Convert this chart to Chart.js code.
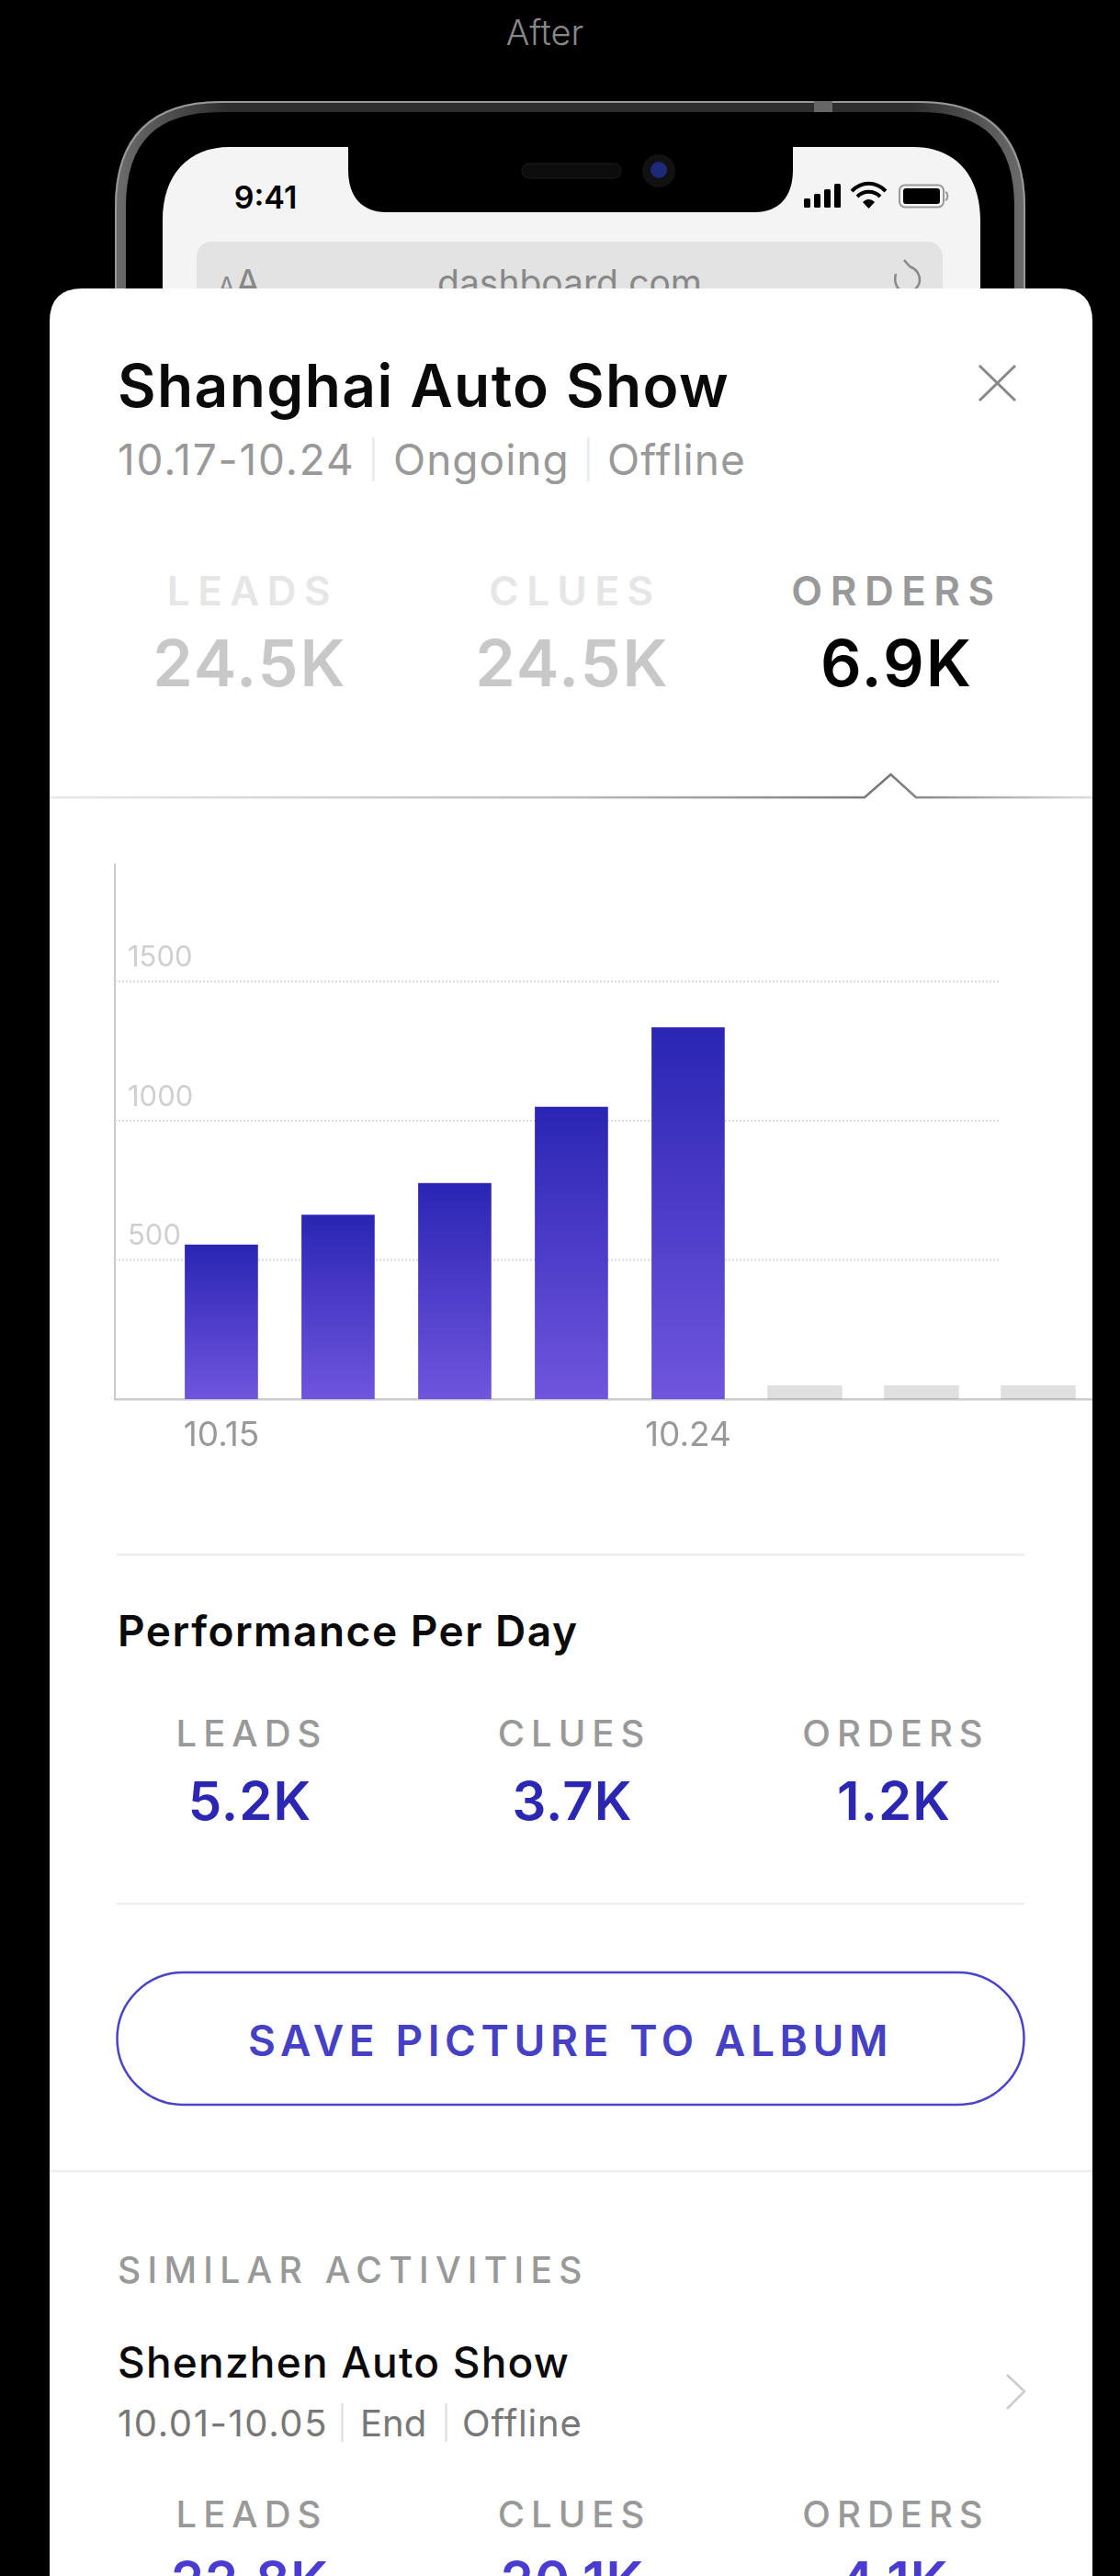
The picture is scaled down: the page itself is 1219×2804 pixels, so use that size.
<!DOCTYPE html>
<html>
<head>
<meta charset="utf-8">
<style>
html, body { margin: 0; padding: 0; background: #000; width: 1219px; height: 2804px; overflow: hidden; }
#page { position: absolute; left: 0; top: 0; width: 1219px; height: 2804px; overflow: hidden; }
#page svg { position: absolute; left: 0; top: 0; }
#wrap { position: absolute; left: 54px; top: 900px; width: 1135px; height: 720px; }
text { font-family: Inter, "Noto Sans", sans-serif; }
</style>
<script src="https://cdn.jsdelivr.net/npm/chart.js@4"></script>
</head>
<body>
<div id="page">
<svg id="art" width="1219" height="2804" xmlns="http://www.w3.org/2000/svg">
  <defs>
    <linearGradient id="bezel" x1="0" y1="0" x2="1" y2="0">
      <stop offset="0" stop-color="#6a6a6a"/><stop offset="0.12" stop-color="#2e2e2e"/>
      <stop offset="0.88" stop-color="#2e2e2e"/><stop offset="1" stop-color="#6a6a6a"/>
    </linearGradient>
    <linearGradient id="tabLine" gradientUnits="userSpaceOnUse" x1="54" y1="0" x2="1189" y2="0">
      <stop offset="0" stop-color="#e8e8e8"/><stop offset="0.5" stop-color="#bbb"/>
      <stop offset="0.8" stop-color="#777"/><stop offset="1" stop-color="#ddd"/>
    </linearGradient>
  </defs>
  <!-- phone behind the card -->
  <path d="M131 330 V225 C131 150 168 116 240 116 H1001 C1073 116 1110 150 1110 225 V330 Z" fill="#000" stroke="url(#bezel)" stroke-width="12"/>
  <path d="M126 330 V225 C126 150 165 111 240 111 H1001 C1076 111 1115 150 1115 225 V330" fill="none" stroke="#999" stroke-width="2"/>
  <rect x="886" y="110" width="20" height="12" fill="#666"/>
  <path d="M177 330 V240 C177 190 205 160 250 160 H379 V185 C379 215 395 231 420 231 H822 C847 231 863 215 863 185 V160 H994 C1039 160 1067 190 1067 240 V330 Z" fill="#f4f4f4"/>
  <rect x="568" y="178" width="108" height="16" rx="8" fill="#0c0c0c" stroke="#1c1c1c"/>
  <circle cx="717" cy="186" r="18" fill="#111"/>
  <circle cx="717" cy="185" r="9" fill="#1d2a7a"/>
  <rect x="214" y="263" width="812" height="70" rx="16" fill="#e3e3e3"/>
  <!-- status icons -->
  <rect x="875" y="216" width="7" height="10" rx="1.5"/><rect x="886" y="211" width="7" height="15" rx="1.5"/>
  <rect x="897" y="206" width="7" height="20" rx="1.5"/><rect x="908" y="200" width="7" height="26" rx="1.5"/>
  <path d="M927 208 C938 197 953 197 964 208 M933 214 C940 207 951 207 958 214" fill="none" stroke="#000" stroke-width="4"/>
  <path d="M939 220 C943 216 948 216 952 220 L945.500 227 Z"/>
  <rect x="979" y="201.500" width="48" height="24" rx="6" fill="none" stroke="#999" stroke-width="2"/>
  <rect x="983" y="205" width="40" height="17" rx="3"/>
  <path d="M1029 209 C1032 210 1032 217 1029 218" fill="none" stroke="#999" stroke-width="2"/>
  <path d="M990 290 C1006 296 1004 316 988 318 C978 318 972 310 975 298 M990 290 L984 283" fill="none" stroke="#888" stroke-width="2.500"/>
  <g id="phoneLabels"></g>
  <!-- card -->
  <path d="M54 2804 V350 Q54 314 90 314 H1153 Q1189 314 1189 350 V2804 Z" fill="#fff"/>
  <path d="M1066 398 L1105 436 M1105 398 L1066 436" stroke="#888" stroke-width="3" fill="none"/>
  <path d="M54 868 H941 L969.500 843 L997 868 H1189" fill="none" stroke="url(#tabLine)" stroke-width="2.500"/>
  <rect x="127" y="1691" width="988" height="2.500" fill="#eee"/>
  <rect x="127" y="2071" width="988" height="2.500" fill="#eee"/>
  <rect x="54" y="2362" width="1135" height="2.500" fill="#eee"/>
  <rect x="127.500" y="2147" width="987" height="144" rx="72" fill="none" stroke="#4a44c8" stroke-width="2.500"/>
  <path d="M1096 2585 L1115 2603 L1096 2622" fill="none" stroke="#ccc" stroke-width="2.500"/>
  <g id="labels"></g>
</svg>
<div id="wrap"><canvas id="myChart"></canvas></div>
</div>
<script>
// chart values
const dayLabels = ['10.15', '', '', '', '10.24', '', '', ''];
const orderValues = [554, 661, 775, 1049, 1334, null, null, null];
const emptyValues = [null, null, null, null, null, 48, 48, 48];
const yTickValues = [500, 1000, 1500];
const xTickValues = [0, 4];
const yMax = 1920;
const xMin = -0.913;
const xMax = 7.465;
const gridEnd = 6.67; // dotted lines stop short of the right edge

// text of the panel
const metricNames = ['LEADS', 'CLUES', 'ORDERS'];
const totals = ['24.5K', '24.5K', '6.9K'];
const perDay = ['5.2K', '3.7K', '1.2K'];
const similar = ['22.8K', '20.1K', '4.1K'];
const columns = [272, 623, 973];

const svgNS = 'http://www.w3.org/2000/svg';
function addText(str, x, y, size, weight, color, anchor, spacing, group) {
    const t = document.createElementNS(svgNS, 'text');
    t.setAttribute('x', x);
    t.setAttribute('y', y);
    t.setAttribute('font-size', size);
    t.setAttribute('font-weight', weight);
    t.setAttribute('fill', color);
    t.setAttribute('text-anchor', anchor || 'start');
    if (spacing) t.setAttribute('letter-spacing', spacing);
    t.textContent = str;
    document.getElementById(group || 'labels').appendChild(t);
}

addText('After', 593, 49, 38, 300, '#888', 'middle', 0, 'labels');
addText('9:41', 289, 227, 34, 600, '#000', 'middle', 0, 'phoneLabels');
addText('dashboard.com', 620, 322, 39, 400, '#888', 'middle', 0, 'phoneLabels');
addText('A', 237, 322, 28, 400, '#888', 'start', 0, 'phoneLabels');
addText('A', 256, 322, 40, 400, '#888', 'start', 0, 'phoneLabels');

addText('Shanghai Auto Show', 128, 443, 64, 600, '#0a0a0a', 'start', 1.4);
addText('10.17-10.24', 128, 517, 46, 400, '#999', 'start', 1.8);
addText('|', 400, 515, 40, 300, '#eaeaea');
addText('Ongoing', 428, 517, 46, 400, '#999', 'start', 1);
addText('|', 634, 515, 40, 300, '#eaeaea');
addText('Offline', 661, 517, 46, 400, '#999', 'start', 1);

metricNames.forEach((name, i) => {
    const valueX = i === 2 ? columns[i] + 3 : columns[i];
    addText(name, columns[i] + 3, 659, 44, 600, i === 2 ? '#999' : '#e6e6e6', 'middle', 8.5);
    addText(totals[i], valueX, 747, 70, 600, i === 2 ? '#000' : '#c8c8c8', 'middle', 2);
    addText(name, columns[i] + 2, 1901, 40, 500, '#999', 'middle', 7);
    addText(perDay[i], columns[i], 1981, 58, 600, '#2b27b2', 'middle', 1);
    addText(name, columns[i] + 2, 2751, 40, 500, '#999', 'middle', 7);
    addText(similar[i], columns[i], 2830, 58, 600, '#4a3cd0', 'middle', 1);
});

addText('Performance Per Day', 128, 1792, 46, 600, '#0a0a0a', 'start', 1.5);
addText('SAVE PICTURE TO ALBUM', 621, 2238, 46, 600, '#4540c4', 'middle', 5.6);
addText('SIMILAR ACTIVITIES', 128, 2485, 39, 500, '#999', 'start', 7.3);
addText('Shenzhen Auto Show', 128, 2588, 46, 500, '#0a0a0a', 'start', 1.2);
addText('10.01-10.05', 128, 2652, 40, 400, '#777', 'start', 1.6);
addText('|', 367, 2650, 35, 300, '#ddd');
addText('End', 392, 2652, 40, 400, '#777');
addText('|', 480, 2650, 35, 300, '#ddd');
addText('Offline', 503, 2652, 40, 400, '#777', 'start', 0.8);

// dotted lines that stop before the right edge, so not the library's own grid
const partialGrid = {
    id: 'partialGrid',
    beforeDatasetsDraw(chart) {
        const { ctx, scales } = chart;
        ctx.save();
        ctx.strokeStyle = '#d8d8d8';
        ctx.lineWidth = 2;
        ctx.setLineDash([2, 2]);
        yTickValues.forEach(v => {
            const y = scales.y.getPixelForValue(v);
            ctx.beginPath();
            ctx.moveTo(scales.x.left, y);
            ctx.lineTo(scales.x.getPixelForValue(gridEnd), y);
            ctx.stroke();
        });
        ctx.restore();
    }
};

function barGradient(context) {
    const { chart, parsed } = context;
    if (!chart.chartArea || !parsed) return '#4a3cd0';
    const top = chart.scales.y.getPixelForValue(parsed.y);
    const bottom = chart.scales.y.getPixelForValue(0);
    const g = chart.ctx.createLinearGradient(0, top, 0, bottom);
    g.addColorStop(0, '#2a25b4');
    g.addColorStop(1, '#7055de');
    return g;
}

const toPoints = arr => arr.map((v, i) => ({ x: i, y: v })).filter(p => p.y !== null);
const ctx = document.getElementById('myChart').getContext('2d');
new Chart(ctx, {
    type: 'bar',
    data: {
        datasets: [{
            label: 'Orders',
            data: toPoints(orderValues),
            backgroundColor: barGradient,
            barThickness: 79
        }, {
            label: 'No data',
            data: toPoints(emptyValues),
            backgroundColor: 'rgba(0, 0, 0, 0.12)',
            barThickness: 81
        }]
    },
    options: {
        responsive: true,
        maintainAspectRatio: false,
        animation: false,
        grouped: false,
        layout: { padding: { left: 71, top: 41, right: 0, bottom: 0 } },
        plugins: { legend: { display: false }, tooltip: { enabled: false } },
        scales: {
            x: {
                type: 'linear',
                min: xMin,
                max: xMax,
                offset: false,
                grid: { display: false },
                border: { display: true, color: '#cccccc', width: 2.5 },
                afterBuildTicks: axis => { axis.ticks = xTickValues.map(v => ({ value: v })); },
                afterFit: axis => { axis.height = 97; },
                ticks: {
                    color: '#999',
                    font: { family: 'Inter', size: 37 },
                    padding: 10,
                    maxRotation: 0,
                    autoSkip: false,
                    callback: value => dayLabels[value]
                }
            },
            y: {
                min: 0,
                max: yMax,
                grid: { display: false },
                border: { display: true, color: '#cccccc', width: 2 },
                afterBuildTicks: axis => { axis.ticks = yTickValues.map(v => ({ value: v })); },
                afterFit: axis => { axis.width = 0; },
                ticks: {
                    mirror: true,
                    padding: 14,
                    labelOffset: -25.5,
                    color: '#cfcfcf',
                    font: { family: 'Inter', size: 31 },
                    callback: value => String(value)
                }
            }
        }
    },
    plugins: [partialGrid]
});
</script>
</body>
</html>
